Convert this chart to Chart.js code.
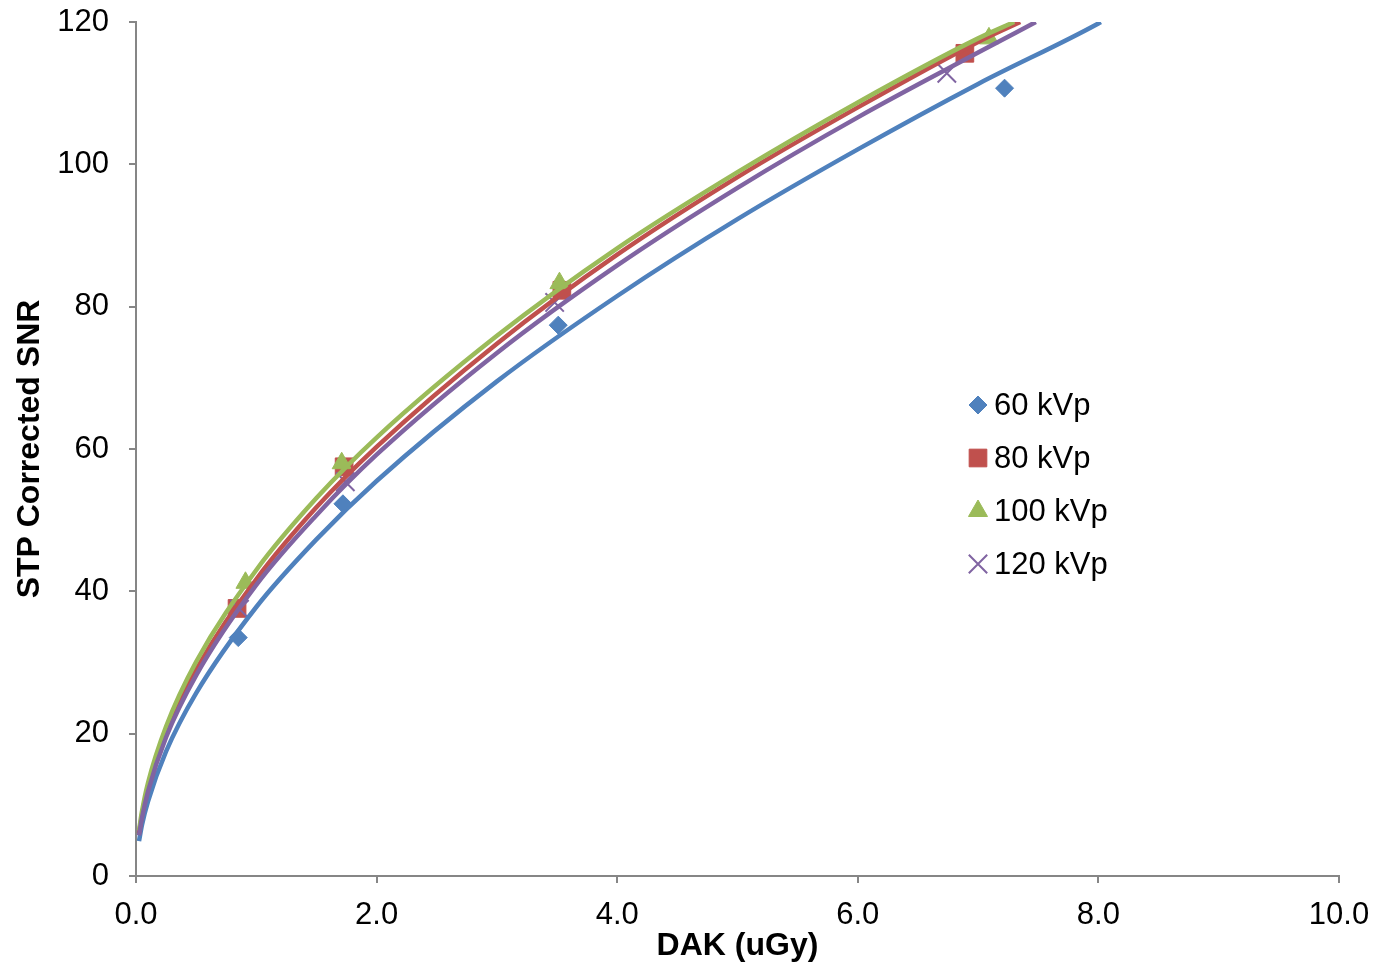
<!DOCTYPE html>
<html>
<head>
<meta charset="utf-8">
<script src="https://cdn.jsdelivr.net/npm/chart.js@4.4.0/dist/chart.umd.min.js"></script>
<style>
html, body { margin: 0; padding: 0; background: #fff; }
#wrap { width: 1376px; height: 965px; }
</style>
</head>
<body>
<div id="wrap"><canvas id="myChart" width="1376" height="965"></canvas></div>
<script>
const seriesNames = ['60 kVp', '80 kVp', '100 kVp', '120 kVp'];
const seriesColors = ['#4F81BD', '#C0504D', '#9BBB59', '#8064A2'];
const seriesMarkers = ['rectRot', 'rect', 'triangle', 'crossRot'];
const markerSizes = [9, 12.5, 11, 13];

// measured points (DAK in uGy, STP corrected SNR)
const dak60 = [0.85, 1.72, 3.51, 7.22];
const snr60 = [33.5, 52.3, 77.4, 110.7];
const dak80 = [0.84, 1.73, 3.54, 6.89];
const snr80 = [37.6, 57.5, 82.3, 115.6];
const dak100 = [0.91, 1.71, 3.52, 7.09];
const snr100 = [41.2, 58.0, 83.3, 117.7];
const dak120 = [0.86, 1.74, 3.48, 6.74];
const snr120 = [37.5, 55.4, 80.6, 112.8];

// power trend lines
const fitDak60 = [0.025, 0.05, 0.1, 0.25, 0.5, 1, 1.5, 2, 3, 4, 5, 6, 7, 8, 8.02];
const fitSnr60 = [4.9, 7.2, 10.5, 17.5, 25.7, 37.8, 47.3, 55.5, 69.5, 81.5, 92.3, 102.1, 111.3, 119.8, 120];
const fitDak80 = [0.025, 0.05, 0.1, 0.25, 0.5, 1, 1.5, 2, 3, 4, 5, 6, 7, 7.35];
const fitSnr80 = [6.0, 8.6, 12.5, 20.2, 29.0, 41.7, 51.8, 60.3, 74.8, 87.3, 98.2, 108.0, 117.2, 120];
const fitDak100 = [0.025, 0.05, 0.1, 0.25, 0.5, 1, 1.5, 2, 3, 4, 5, 6, 7, 7.3];
const fitSnr100 = [6.4, 9.1, 13.1, 21.0, 30.1, 43.0, 53.1, 61.6, 75.9, 88.2, 98.9, 108.7, 117.7, 120];
const fitDak120 = [0.025, 0.05, 0.1, 0.25, 0.5, 1, 1.5, 2, 3, 4, 5, 6, 7, 7.48];
const fitSnr120 = [5.7, 8.2, 11.9, 19.5, 28.2, 40.9, 50.7, 59.2, 73.5, 85.8, 96.7, 106.6, 115.7, 120];

const pointDak = [dak60, dak80, dak100, dak120];
const pointSnr = [snr60, snr80, snr100, snr120];
const fitDak = [fitDak60, fitDak80, fitDak100, fitDak120];
const fitSnr = [fitSnr60, fitSnr80, fitSnr100, fitSnr120];

const toXY = (xs, ys) => xs.map((x, i) => ({ x: x, y: ys[i] }));

const datasets = [];
// trend lines first so they sit over the markers; last series on top
for (let i = 3; i >= 0; i--) {
    datasets.push({
        label: seriesNames[i] + ' fit',
        data: toXY(fitDak[i], fitSnr[i]),
        showLine: true,
        borderColor: seriesColors[i],
        borderWidth: 4.5,
        pointRadius: 0,
        pointHoverRadius: 0,
        cubicInterpolationMode: 'monotone',
        fill: false
    });
}
for (let i = 3; i >= 0; i--) {
    datasets.push({
        label: seriesNames[i],
        data: toXY(pointDak[i], pointSnr[i]),
        showLine: false,
        pointStyle: seriesMarkers[i],
        pointRadius: markerSizes[i],
        pointHoverRadius: markerSizes[i],
        backgroundColor: seriesColors[i],
        borderColor: seriesColors[i],
        borderWidth: seriesMarkers[i] === 'crossRot' ? 2 : 1
    });
}

const insideLegend = {
    id: 'insideLegend',
    afterDatasetsDraw(chart) {
        const { ctx, chartArea } = chart;
        const x0 = chartArea.left + 842;
        const y0 = chartArea.top + 383;
        const gap = 53;
        ctx.save();
        ctx.font = '31px "Liberation Sans", Arial, sans-serif';
        ctx.textBaseline = 'middle';
        ctx.textAlign = 'left';
        seriesNames.forEach((name, i) => {
            const y = y0 + i * gap;
            ctx.fillStyle = seriesColors[i];
            ctx.strokeStyle = seriesColors[i];
            ctx.lineWidth = seriesMarkers[i] === 'crossRot' ? 2 : 1;
            Chart.helpers.drawPoint(ctx, {
                pointStyle: seriesMarkers[i],
                radius: markerSizes[i],
                rotation: 0,
                borderWidth: ctx.lineWidth
            }, x0, y);
            ctx.fillStyle = '#000';
            ctx.fillText(name, x0 + 16, y + 1);
        });
        ctx.restore();
    }
};

const tickFont = { family: '"Liberation Sans", Arial, sans-serif', size: 31 };
const titleFont = { family: '"Liberation Sans", Arial, sans-serif', size: 32, weight: 'bold' };
const axisGrey = '#868686';

const ctx = document.getElementById('myChart').getContext('2d');
const myChart = new Chart(ctx, {
    type: 'scatter',
    data: { datasets: datasets },
    options: {
        responsive: false,
        animation: false,
        layout: { padding: { top: 22, right: 37, left: 0, bottom: 0 } },
        plugins: {
            legend: { display: false },
            tooltip: { enabled: false }
        },
        scales: {
            x: {
                type: 'linear',
                min: 0,
                max: 10,
                ticks: {
                    stepSize: 2,
                    callback: v => v.toFixed(1),
                    font: tickFont,
                    color: '#000',
                    padding: 14,
                    maxRotation: 0
                },
                grid: { drawOnChartArea: false, tickLength: 7, color: axisGrey, lineWidth: 2 },
                border: { color: axisGrey, width: 2 },
                title: { display: true, text: 'DAK (uGy)', font: titleFont, color: '#000', padding: { top: 0, bottom: 0 } },
                afterFit: s => { s.height = 89; s.paddingLeft = 0; s.paddingRight = 0; }
            },
            y: {
                type: 'linear',
                min: 0,
                max: 120,
                ticks: {
                    stepSize: 20,
                    font: tickFont,
                    color: '#000',
                    padding: 20
                },
                grid: { drawOnChartArea: false, tickLength: 7, color: axisGrey, lineWidth: 2 },
                border: { color: axisGrey, width: 2 },
                title: { display: true, text: 'STP Corrected SNR', font: titleFont, color: '#000', padding: { top: 11, bottom: 0 } },
                afterFit: s => { s.width = 136; s.paddingTop = 0; s.paddingBottom = 0; }
            }
        }
    },
    plugins: [insideLegend]
});
</script>
</body>
</html>
